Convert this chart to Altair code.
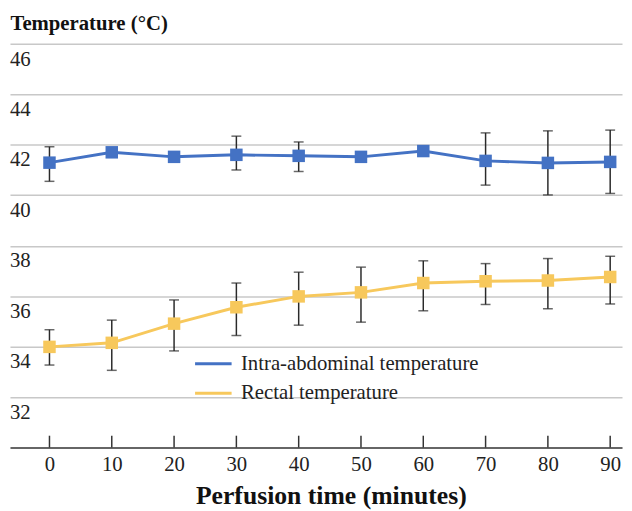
import altair as alt
import pandas as pd

times = [0, 10, 20, 30, 40, 50, 60, 70, 80, 90]
series_names = ["Intra-abdominal temperature", "Rectal temperature"]
series_colors = ["#4472C4", "#F7C85C"]

intra = [41.29, 41.70, 41.52, 41.60, 41.56, 41.52, 41.75, 41.36, 41.28, 41.32]
intra_lo = [40.55, 41.70, 41.52, 41.00, 40.94, 41.52, 41.75, 40.40, 40.01, 40.07]
intra_hi = [41.92, 41.70, 41.52, 42.34, 42.11, 41.52, 41.75, 42.47, 42.55, 42.58]

rectal = [33.99, 34.15, 34.91, 35.56, 35.99, 36.15, 36.52, 36.59, 36.62, 36.76]
rectal_lo = [33.27, 33.06, 33.83, 34.44, 34.85, 34.97, 35.42, 35.67, 35.50, 35.69]
rectal_hi = [34.67, 35.05, 35.85, 36.52, 36.95, 37.15, 37.40, 37.29, 37.49, 37.58]

y_ticks = [32, 34, 36, 38, 40, 42, 44, 46]

rows = []
for name, vals, los, his in [
    (series_names[0], intra, intra_lo, intra_hi),
    (series_names[1], rectal, rectal_lo, rectal_hi),
]:
    for t, v, lo, hi in zip(times, vals, los, his):
        rows.append({"time": t, "series": name, "value": v, "lo": lo, "hi": hi})
df = pd.DataFrame(rows)
ydf = pd.DataFrame({"value": y_ticks, "label": [str(v) for v in y_ticks]})
tdf = pd.DataFrame({"time": times})

W, H = 620, 409
SERIF = "Liberation Serif, Times New Roman, serif"

xs = alt.Scale(domain=[-6.34, 91.9], nice=False, zero=False)
ys = alt.Scale(domain=[30, 46], nice=False, zero=False)
cs = alt.Scale(domain=series_names, range=series_colors)

x_axis = alt.Axis(
    values=times, grid=False, ticks=False, tickSize=0,
    labelFont=SERIF, labelFontSize=21, labelColor="#222", labelPadding=23,
    labelBaseline="alphabetic", labelAngle=0,
    domainColor="#333", domainWidth=1.5,
    title="Perfusion time (minutes)", titleFont=SERIF, titleFontSize=26,
    titleFontWeight="bold", titleColor="#111", titleBaseline="alphabetic",
    titleAlign="center", titleAnchor="start", titleX=325, titleY=57,
)
y_axis = alt.Axis(
    values=y_ticks, labels=False, ticks=False, domain=False,
    grid=True, gridColor="#c8c8c8", gridWidth=1.5,
    title="Temperature (°C)", titleFont=SERIF, titleFontSize=21,
    titleFontWeight="bold", titleColor="#111", titleAngle=0,
    titleAlign="left", titleBaseline="alphabetic", titleAnchor="start",
    titleX=0, titleY=-14,
)

base = alt.Chart(df)

lines = base.mark_line(strokeWidth=3).encode(
    x=alt.X("time:Q", scale=xs, axis=x_axis),
    y=alt.Y("value:Q", scale=ys, axis=y_axis),
    color=alt.Color(
        "series:N", scale=cs,
        legend=alt.Legend(
            orient="none", legendX=186, legendY=304, title=None,
            symbolType="stroke", symbolSize=1369, symbolStrokeWidth=3,
            labelFont=SERIF, labelFontSize=21, labelColor="#222",
            labelOffset=8, rowPadding=-5, padding=0, labelLimit=0,
        ),
    ),
)
errbars = base.mark_rule(color="#2a2a2a", strokeWidth=1.5).encode(
    x=alt.X("time:Q", scale=xs),
    y=alt.Y("lo:Q", scale=ys),
    y2="hi:Q",
)
caps = base.transform_fold(["lo", "hi"], as_=["end", "value"]).mark_tick(
    color="#2a2a2a", orient="horizontal", size=10, thickness=1.5
).encode(
    x=alt.X("time:Q", scale=xs),
    y=alt.Y("value:Q", scale=ys),
)
points = base.mark_square(size=160, opacity=1).encode(
    x=alt.X("time:Q", scale=xs),
    y=alt.Y("value:Q", scale=ys),
    color=alt.Color("series:N", scale=cs, legend=None),
)
xticks = alt.Chart(tdf).mark_rule(color="#333", strokeWidth=1.5).encode(
    x=alt.X("time:Q", scale=xs),
    y=alt.value(H - 12),
    y2=alt.value(H),
)
ylabels = alt.Chart(ydf).mark_text(
    align="left", baseline="alphabetic", dy=22, font=SERIF, fontSize=21, color="#222"
).encode(
    x=alt.value(0),
    y=alt.Y("value:Q", scale=ys),
    text="label:N",
)

chart = alt.layer(lines, ylabels, xticks, errbars, caps, points).properties(
    width=W, height=H,
    autosize=alt.AutoSizeParams(type="none"),
    padding={"left": 2, "top": 33, "right": 2, "bottom": 61},
    background="white",
).configure_view(stroke=None)

chart.save("out.html", embed_options={"renderer": "svg", "actions": False})
